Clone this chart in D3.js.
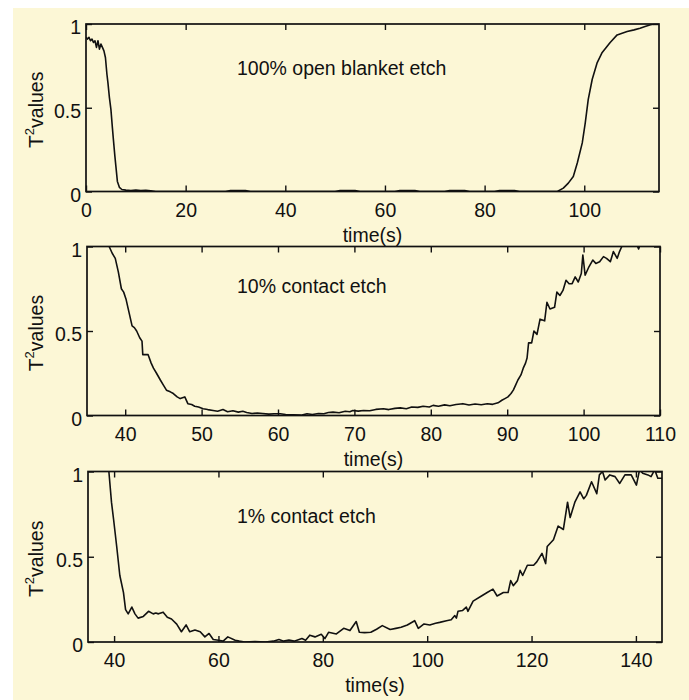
<!DOCTYPE html>
<html>
<head>
<meta charset="utf-8">
<script src="https://cdn.jsdelivr.net/npm/d3@7"></script>
<style>
  body { margin: 0; background: #fff; }
  svg { display: block; }
  .tick text { font-family: "Liberation Sans", Arial, Helvetica, sans-serif; font-size: 19.5px; fill: #111; }
  .lbl { font-family: "Liberation Sans", Arial, Helvetica, sans-serif; font-size: 19.5px; fill: #111; }
</style>
</head>
<body>
<div id="chart"></div>
<script>
// panel 1: 100% open blanket etch
var time1 = [0, 0.3, 0.6, 0.9, 1.2, 1.5, 1.8, 2.1, 2.4, 2.7, 3.0, 3.3, 3.6, 3.9, 4.2, 4.4, 4.7, 5.0, 5.3, 5.5,
  5.8, 6.0, 6.3, 6.7, 7.2, 8, 9, 10, 11, 12, 13, 14, 20, 28, 29, 32, 33, 40, 50, 51, 54, 55, 62, 63, 66, 67,
  72, 73, 76, 77, 82, 83, 86, 87, 94.6, 95.8, 96.8, 97.8, 98.6, 99.6, 100.2, 100.8, 101.6, 102.6, 103.6,
  104.4, 105.2, 106.6, 107.6, 108.6, 110, 111.2, 112.2, 113.3, 114.2, 115];
var t2val1 = [0.92, 0.91, 0.92, 0.90, 0.91, 0.89, 0.90, 0.86, 0.90, 0.85, 0.88, 0.86, 0.84, 0.80, 0.70, 0.65,
  0.56, 0.49, 0.38, 0.31, 0.21, 0.15, 0.06, 0.025, 0.012, 0.008, 0.006, 0.008, 0.006, 0.007, 0.004, 0, 0,
  0, 0.006, 0.006, 0, 0, 0, 0.006, 0.006, 0, 0, 0.006, 0.006, 0, 0, 0.006, 0.006, 0, 0, 0.006, 0.006, 0,
  0, 0.02, 0.05, 0.09, 0.17, 0.29, 0.41, 0.55, 0.67, 0.77, 0.83, 0.86, 0.89, 0.935, 0.945, 0.955, 0.965,
  0.975, 0.985, 0.995, 1.0, 1.0];

// panel 2: 10% contact etch
var time2 = [37.6, 37.9, 38.3, 38.7, 39.1, 39.5, 39.8, 40.1, 40.5, 40.9, 41.2, 41.5, 41.9, 42.2, 42.3, 43.0,
  43.4, 43.7, 44.1, 44.6, 45.0, 45.4, 45.9, 46.3, 46.8, 47.2, 47.8, 48.2, 48.7, 49.1, 49.6, 50.2, 50.8,
  51.5, 52.1, 52.8, 53.4, 54.1, 54.8, 55.4, 55.9, 56.6, 57.3, 58, 58.8, 59.5, 60.3, 61, 62, 63, 63.8, 64.5,
  65.3, 66, 66.6, 67.2, 68, 68.8, 69.4, 69.8, 70.5, 71.2, 72, 72.8, 73.8, 74.5, 75.3, 76, 76.8, 77.5, 78.3,
  79, 79.8, 80.3, 81, 81.8, 82.5, 83.3, 84.2, 85, 85.8, 86.6, 87.4, 88.1, 88.8, 89.3, 89.7, 90.1, 90.5,
  90.8, 91.1, 91.4, 91.8, 92.1, 92.4, 92.6, 92.8, 93.2, 93.5, 93.9, 94.3, 94.9, 95.2, 95.6, 96.2, 96.5,
  96.9, 97.3, 97.7, 98.1, 98.5, 98.9, 99.3, 99.7, 99.9, 100.2, 100.7, 101.2, 101.6, 102.1, 102.6, 103,
  103.5, 103.9, 104.4, 104.7, 105, 105.5, 106.2, 106.8, 107.2, 107.6, 108.5, 110];
var t2val2 = [1.03, 1.0, 0.96, 0.93, 0.85, 0.75, 0.73, 0.69, 0.61, 0.53, 0.52, 0.50, 0.46, 0.44, 0.36, 0.36,
  0.31, 0.28, 0.25, 0.21, 0.18, 0.15, 0.14, 0.13, 0.11, 0.10, 0.11, 0.07, 0.065, 0.055, 0.05, 0.04, 0.035,
  0.03, 0.025, 0.035, 0.022, 0.028, 0.02, 0.025, 0.018, 0.012, 0.015, 0.012, 0.008, 0.01, 0.01, 0.006,
  0.004, 0.002, 0.01, 0.006, 0.012, 0.01, 0.018, 0.02, 0.016, 0.025, 0.022, 0.03, 0.026, 0.03, 0.028,
  0.036, 0.04, 0.035, 0.042, 0.045, 0.04, 0.05, 0.048, 0.055, 0.05, 0.06, 0.055, 0.063, 0.058, 0.065,
  0.07, 0.062, 0.068, 0.064, 0.07, 0.066, 0.075, 0.09, 0.10, 0.11, 0.13, 0.15, 0.18, 0.21, 0.24, 0.28,
  0.31, 0.34, 0.43, 0.43, 0.50, 0.48, 0.57, 0.56, 0.67, 0.63, 0.64, 0.73, 0.71, 0.74, 0.80, 0.78, 0.78,
  0.82, 0.79, 0.84, 0.95, 0.83, 0.88, 0.92, 0.90, 0.91, 0.94, 0.93, 0.91, 0.97, 0.93, 0.97, 1.0, 1.04,
  1.06, 1.03, 0.985, 1.04, 1.08, 1.1];

// panel 3: 1% contact etch
var time3 = [38.5, 39.0, 39.5, 39.9, 40.5, 41.1, 41.8, 42.2, 42.7, 43.4, 44.0, 44.6, 45.6, 46.6, 47.5, 48.0,
  48.5, 49.4, 50.2, 51.0, 52.0, 52.9, 53.8, 54.5, 55.5, 56.5, 57.4, 58.2, 59.0, 60.0, 60.9, 61.8, 63.2, 64,
  65, 67, 69, 70.5, 71.6, 72.5, 73.5, 74.5, 76, 76.7, 77.5, 78.5, 79.7, 80.4, 81.1, 82.6, 84, 85.2, 86.4,
  87, 88, 89.2, 90.3, 91.4, 92.9, 94, 95, 96.2, 97.6, 98.3, 99.4, 100.5, 101.6, 102.4, 103.7, 104.6,
  105.3, 105.6, 105.9, 106.8, 107.5, 107.8, 108.8, 110.4, 111.5, 112.6, 113.4, 114.6, 115.5, 116, 116.5,
  117.3, 117.8, 118.3, 119.2, 120.4, 121, 122, 122.7, 123, 124.2, 125.1, 126.1, 126.9, 127.4, 128.3,
  129.3, 130, 130.5, 131.5, 132.5, 133, 133.6, 134.1, 135, 136, 136.9, 137.9, 139.1, 140.1, 140.7,
  141.3, 142.3, 142.9, 143.6, 144.2, 145];
var t2val3 = [1.08, 1.0, 0.82, 0.72, 0.56, 0.39, 0.29, 0.19, 0.165, 0.205, 0.165, 0.14, 0.15, 0.18, 0.165,
  0.17, 0.165, 0.175, 0.145, 0.135, 0.105, 0.06, 0.10, 0.06, 0.07, 0.06, 0.03, 0.05, 0.015, 0.01, 0.005,
  0.03, 0.01, 0.005, 0.0, 0.003, 0.0, 0.005, 0.015, 0.005, 0.012, 0.005, 0.02, 0.01, 0.04, 0.03, 0.045,
  0.02, 0.057, 0.047, 0.08, 0.067, 0.12, 0.057, 0.055, 0.057, 0.075, 0.096, 0.073, 0.08, 0.086, 0.1,
  0.125, 0.08, 0.106, 0.1, 0.11, 0.115, 0.125, 0.13, 0.155, 0.14, 0.18, 0.185, 0.205, 0.18, 0.24, 0.27,
  0.29, 0.31, 0.27, 0.29, 0.29, 0.36, 0.33, 0.36, 0.42, 0.39, 0.45, 0.45, 0.47, 0.52, 0.46, 0.56, 0.60,
  0.68, 0.66, 0.82, 0.73, 0.82, 0.88, 0.84, 0.86, 0.94, 0.87, 0.98, 1.0, 0.95, 0.98, 0.97, 0.93, 0.98,
  0.98, 0.92, 1.01, 0.99, 0.98, 0.97, 1.01, 0.96, 0.96];

var titles = ["100% open blanket etch", "10% contact etch", "1% contact etch"];
var xDomains = [[0, 115], [35, 110], [35, 145]];
var xTicks1 = [0, 20, 40, 60, 80, 100];
var xTicks2 = [40, 50, 60, 70, 80, 90, 100, 110];
var xTicks3 = [40, 60, 80, 100, 120, 140];
var yTicks = [0, 0.5, 1];
var yLabel = "values";
var xLabel = "time(s)";

var W = 689, H = 700;
var svg = d3.select('#chart').append('svg')
  .attr('width', W)
  .attr('height', H);

// cream page, white strip top and left like the scan
svg.append('rect')
  .attr('x', 13).attr('y', 8)
  .attr('width', W - 13).attr('height', H - 8)
  .attr('fill', '#fcf7d6');

// plot boxes (scan is a bit tilted, these are averages)
var boxes = [
  { left: 86, right: 659, top: 24, bottom: 191.5 },
  { left: 87, right: 660, top: 246.5, bottom: 415.5 },
  { left: 88, right: 662, top: 471.5, bottom: 642 }
];

var panels = [
  { t: time1, v: t2val1, ticks: xTicks1 },
  { t: time2, v: t2val2, ticks: xTicks2 },
  { t: time3, v: t2val3, ticks: xTicks3 }
];

panels.forEach(function (p, i) {
  var b = boxes[i];
  var w = b.right - b.left, h = b.bottom - b.top;
  var x = d3.scaleLinear().domain(xDomains[i]).range([0, w]);
  var y = d3.scaleLinear().domain([0, 1]).range([h, 0]);

  var g = svg.append('g')
    .attr('transform', 'translate(' + b.left + ',' + b.top + ')');

  g.append('clipPath').attr('id', 'clip' + i)
    .append('rect').attr('width', w).attr('height', h);

  var data = p.t.map(function (d, k) { return [d, p.v[k]]; });
  var line = d3.line()
    .x(function (d) { return x(d[0]); })
    .y(function (d) { return y(d[1]); });

  g.append('path')
    .datum(data)
    .attr('clip-path', 'url(#clip' + i + ')')
    .attr('fill', 'none')
    .attr('stroke', '#111')
    .attr('stroke-width', 1.6)
    .attr('stroke-linejoin', 'round')
    .attr('d', line);

  // ticks pointing inward on all four sides
  var bottom = g.append('g').attr('transform', 'translate(0,' + h + ')')
    .call(d3.axisBottom(x).tickValues(p.ticks).tickSize(-6).tickFormat(d3.format('d')));
  bottom.selectAll('text').attr('y', 25).attr('dy', null);

  g.append('g')
    .call(d3.axisTop(x).tickValues(p.ticks).tickSize(-6).tickFormat(''));

  var left = g.append('g')
    .call(d3.axisLeft(y).tickValues(yTicks).tickSize(-6).tickPadding(5).tickFormat(function (d) { return d === 0.5 ? '0.5' : d; }));
  left.selectAll('text').attr('dy', '0.5em');

  g.append('g').attr('transform', 'translate(' + w + ',0)')
    .call(d3.axisRight(y).tickValues(yTicks).tickSize(-6).tickFormat(''));

  g.selectAll('.domain').remove();
  g.selectAll('.tick line').attr('stroke', '#111').attr('stroke-width', 1.4);

  g.append('rect')
    .attr('width', w).attr('height', h)
    .attr('fill', 'none')
    .attr('stroke', '#111')
    .attr('stroke-width', 1.7);

  // panel title
  g.append('text').attr('class', 'lbl')
    .attr('x', 237 - b.left)
    .attr('y', i === 1 ? 46 : 51)
    .text(titles[i]);

  // x label
  g.append('text').attr('class', 'lbl')
    .attr('x', w / 2)
    .attr('y', h + 50)
    .attr('text-anchor', 'middle')
    .text(xLabel);

  // y label  T^2 values
  var yl = g.append('text').attr('class', 'lbl')
    .attr('text-anchor', 'middle')
    .attr('transform', 'translate(' + (43 - b.left) + ',' + (h / 2 + 2) + ') rotate(-90)');
  yl.append('tspan').attr('font-size', '21px').text('T');
  yl.append('tspan').attr('font-size', '13px').attr('dy', '-9').text('2');
  yl.append('tspan').attr('dy', '9').text(yLabel);
});
</script>
</body>
</html>
